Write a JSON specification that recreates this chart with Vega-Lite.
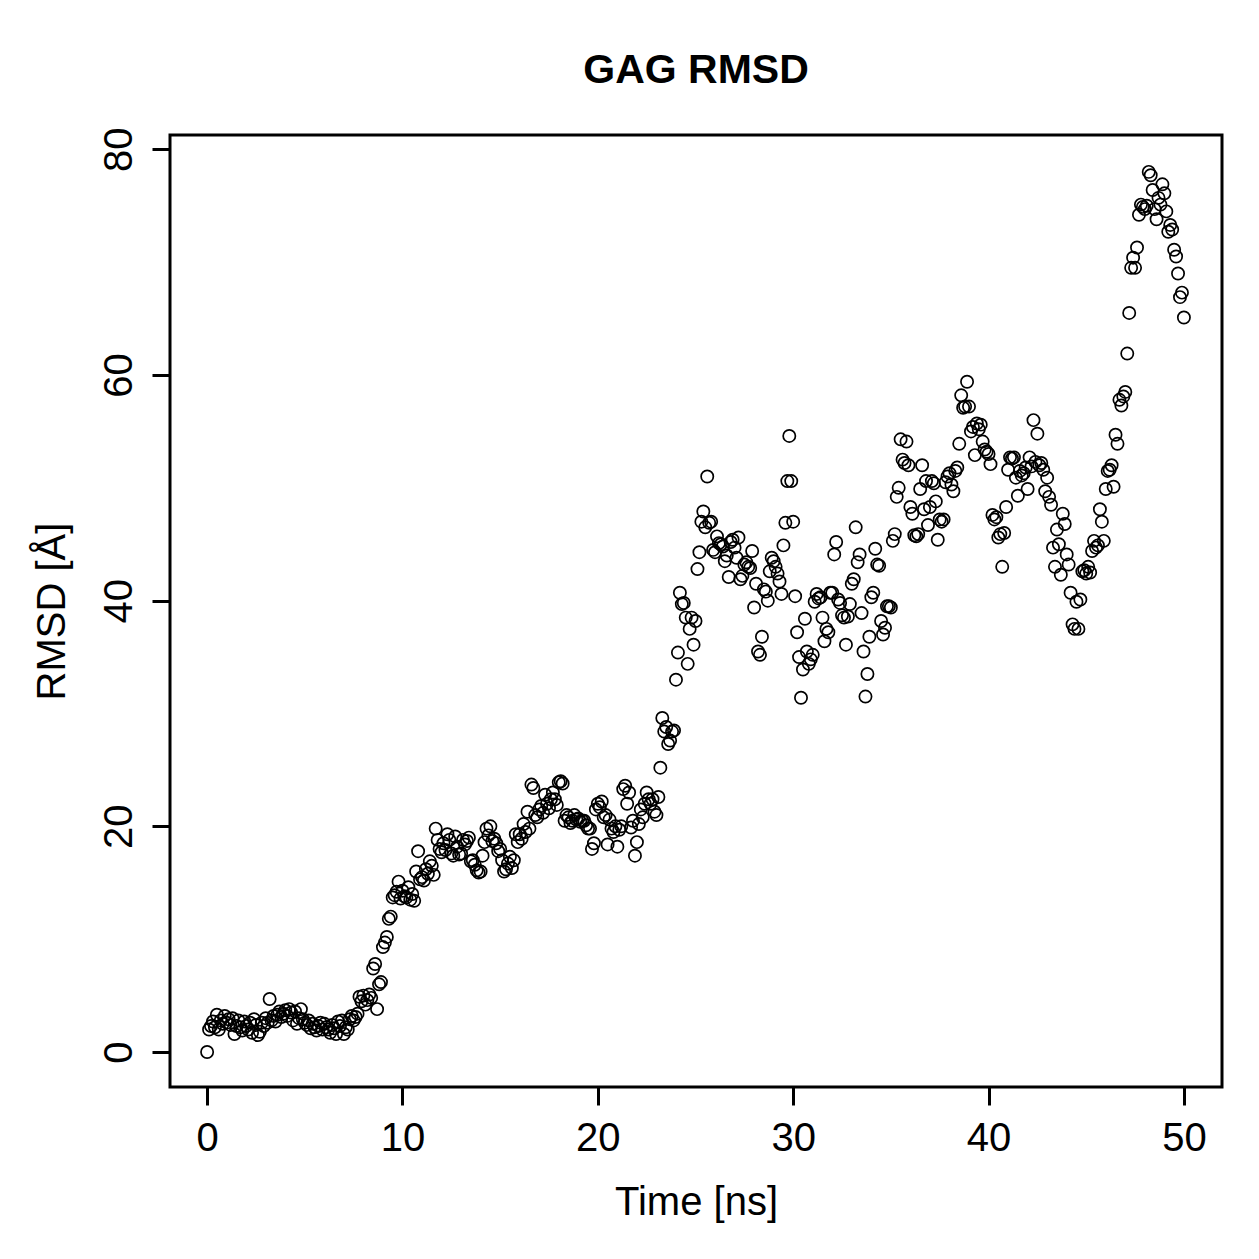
{
"$schema": "https://vega.github.io/schema/vega-lite/v6.json",
"autosize": "none",
"width": 1052,
"height": 952,
"padding": {"left": 170, "top": 135, "right": 37, "bottom": 172},
"background": "white",
"title": {"text": "GAG RMSD", "font": "Liberation Sans", "fontSize": 41, "fontWeight": "bold", "color": "black", "anchor": "middle", "offset": 35},
"config": {
"view": {"stroke": "black", "strokeWidth": 3},
"axis": {"grid": false, "domain": false, "ticks": true, "tickColor": "black", "tickWidth": 3, "tickSize": 18, "labelColor": "black", "labelFont": "Liberation Sans", "labelFontSize": 40, "titleColor": "black", "titleFont": "Liberation Sans", "titleFontSize": 40, "titleFontWeight": "normal", "labelOverlap": false, "labelFlush": false}
},
"data": {"values": [
{"t":0.0,"r":0.0},{"t":0.1,"r":2.0},{"t":0.2,"r":2.3},{"t":0.3,"r":2.7},{"t":0.4,"r":2.2},{"t":0.5,"r":3.3},{"t":0.6,"r":2.0},{"t":0.7,"r":2.8},{"t":0.8,"r":2.5},{"t":0.9,"r":3.2},
{"t":1.0,"r":2.6},{"t":1.1,"r":2.9},{"t":1.2,"r":2.4},{"t":1.3,"r":3.0},{"t":1.4,"r":1.6},{"t":1.5,"r":2.3},{"t":1.6,"r":2.8},{"t":1.7,"r":2.2},{"t":1.8,"r":1.9},{"t":1.9,"r":2.7},
{"t":2.0,"r":2.3},{"t":2.1,"r":2.0},{"t":2.2,"r":2.6},{"t":2.3,"r":1.7},{"t":2.4,"r":2.9},{"t":2.5,"r":2.4},{"t":2.6,"r":1.5},{"t":2.7,"r":1.8},{"t":2.8,"r":2.6},{"t":2.9,"r":2.3},
{"t":3.0,"r":3.0},{"t":3.1,"r":2.6},{"t":3.2,"r":4.7},{"t":3.3,"r":2.8},{"t":3.4,"r":3.2},{"t":3.5,"r":2.7},{"t":3.6,"r":3.3},{"t":3.7,"r":3.6},{"t":3.8,"r":3.1},{"t":3.9,"r":3.4},
{"t":4.0,"r":3.7},{"t":4.1,"r":3.2},{"t":4.2,"r":3.8},{"t":4.3,"r":3.5},{"t":4.4,"r":2.8},{"t":4.5,"r":3.6},{"t":4.6,"r":2.5},{"t":4.7,"r":3.0},{"t":4.8,"r":3.8},{"t":4.9,"r":2.9},
{"t":5.0,"r":2.6},{"t":5.1,"r":2.4},{"t":5.2,"r":2.8},{"t":5.3,"r":2.1},{"t":5.4,"r":2.5},{"t":5.5,"r":2.2},{"t":5.6,"r":1.9},{"t":5.7,"r":2.3},{"t":5.8,"r":2.6},{"t":5.9,"r":2.0},
{"t":6.0,"r":2.5},{"t":6.1,"r":2.2},{"t":6.2,"r":2.0},{"t":6.3,"r":1.7},{"t":6.4,"r":2.4},{"t":6.5,"r":2.1},{"t":6.6,"r":1.6},{"t":6.7,"r":2.7},{"t":6.8,"r":2.3},{"t":6.9,"r":2.8},
{"t":7.0,"r":1.6},{"t":7.1,"r":2.2},{"t":7.2,"r":2.0},{"t":7.3,"r":2.9},{"t":7.4,"r":3.2},{"t":7.5,"r":2.8},{"t":7.6,"r":3.1},{"t":7.7,"r":3.4},{"t":7.8,"r":4.9},{"t":7.9,"r":4.5},
{"t":8.0,"r":5.0},{"t":8.1,"r":4.2},{"t":8.2,"r":4.6},{"t":8.3,"r":5.1},{"t":8.4,"r":4.8},{"t":8.5,"r":7.4},{"t":8.6,"r":7.8},{"t":8.7,"r":3.8},{"t":8.8,"r":6.0},{"t":8.9,"r":6.2},
{"t":9.0,"r":9.3},{"t":9.1,"r":9.7},{"t":9.2,"r":10.2},{"t":9.3,"r":11.8},{"t":9.4,"r":12.0},{"t":9.5,"r":13.7},{"t":9.6,"r":13.9},{"t":9.7,"r":14.2},{"t":9.8,"r":15.1},{"t":9.9,"r":13.6},
{"t":10.0,"r":14.3},{"t":10.1,"r":13.8},{"t":10.2,"r":13.7},{"t":10.3,"r":14.6},{"t":10.4,"r":13.5},{"t":10.5,"r":14.0},{"t":10.6,"r":13.4},{"t":10.7,"r":16.0},{"t":10.8,"r":17.8},{"t":10.9,"r":15.3},
{"t":11.0,"r":15.5},{"t":11.1,"r":15.2},{"t":11.2,"r":16.2},{"t":11.3,"r":15.8},{"t":11.4,"r":16.9},{"t":11.5,"r":16.5},{"t":11.6,"r":15.7},{"t":11.7,"r":19.8},{"t":11.8,"r":18.8},{"t":11.9,"r":18.0},
{"t":12.0,"r":17.7},{"t":12.1,"r":18.5},{"t":12.2,"r":17.9},{"t":12.3,"r":19.3},{"t":12.4,"r":18.8},{"t":12.5,"r":17.6},{"t":12.6,"r":17.4},{"t":12.7,"r":19.1},{"t":12.8,"r":18.2},{"t":12.9,"r":17.5},
{"t":13.0,"r":17.6},{"t":13.1,"r":18.8},{"t":13.2,"r":18.4},{"t":13.3,"r":18.7},{"t":13.4,"r":19.0},{"t":13.5,"r":16.9},{"t":13.6,"r":17.0},{"t":13.7,"r":16.6},{"t":13.8,"r":16.1},{"t":13.9,"r":15.9},
{"t":14.0,"r":16.0},{"t":14.1,"r":17.4},{"t":14.2,"r":18.6},{"t":14.3,"r":19.8},{"t":14.4,"r":19.2},{"t":14.5,"r":20.0},{"t":14.6,"r":18.7},{"t":14.7,"r":18.9},{"t":14.8,"r":18.5},{"t":14.9,"r":17.8},
{"t":15.0,"r":18.0},{"t":15.1,"r":17.0},{"t":15.2,"r":16.0},{"t":15.3,"r":16.2},{"t":15.4,"r":16.7},{"t":15.5,"r":17.3},{"t":15.6,"r":16.3},{"t":15.7,"r":17.0},{"t":15.8,"r":19.3},{"t":15.9,"r":18.6},
{"t":16.0,"r":19.3},{"t":16.1,"r":18.9},{"t":16.2,"r":20.2},{"t":16.3,"r":19.5},{"t":16.4,"r":21.3},{"t":16.5,"r":19.8},{"t":16.6,"r":23.7},{"t":16.7,"r":23.4},{"t":16.8,"r":21.0},{"t":16.9,"r":20.8},
{"t":17.0,"r":21.5},{"t":17.1,"r":21.8},{"t":17.2,"r":21.2},{"t":17.3,"r":22.8},{"t":17.4,"r":22.0},{"t":17.5,"r":21.6},{"t":17.6,"r":22.4},{"t":17.7,"r":23.0},{"t":17.8,"r":22.4},{"t":17.9,"r":21.9},
{"t":18.0,"r":23.9},{"t":18.1,"r":24.0},{"t":18.2,"r":23.8},{"t":18.3,"r":20.5},{"t":18.4,"r":21.0},{"t":18.5,"r":20.8},{"t":18.6,"r":20.3},{"t":18.7,"r":20.5},{"t":18.8,"r":21.0},{"t":18.9,"r":20.6},
{"t":19.0,"r":20.7},{"t":19.1,"r":20.4},{"t":19.2,"r":20.5},{"t":19.3,"r":20.5},{"t":19.4,"r":20.1},{"t":19.5,"r":19.8},{"t":19.6,"r":19.8},{"t":19.7,"r":18.0},{"t":19.8,"r":18.5},{"t":19.9,"r":21.5},
{"t":20.0,"r":22.0},{"t":20.1,"r":21.7},{"t":20.2,"r":22.2},{"t":20.3,"r":20.8},{"t":20.4,"r":21.0},{"t":20.5,"r":18.4},{"t":20.6,"r":20.6},{"t":20.7,"r":19.8},{"t":20.8,"r":19.5},{"t":20.9,"r":20.0},
{"t":21.0,"r":18.2},{"t":21.1,"r":19.7},{"t":21.2,"r":20.0},{"t":21.3,"r":23.3},{"t":21.4,"r":23.6},{"t":21.5,"r":22.0},{"t":21.6,"r":23.0},{"t":21.7,"r":19.9},{"t":21.8,"r":20.5},{"t":21.9,"r":17.4},
{"t":22.0,"r":18.6},{"t":22.1,"r":20.2},{"t":22.2,"r":21.5},{"t":22.3,"r":20.8},{"t":22.4,"r":22.0},{"t":22.5,"r":23.0},{"t":22.6,"r":22.4},{"t":22.7,"r":22.0},{"t":22.8,"r":22.4},{"t":22.9,"r":21.3},
{"t":23.0,"r":21.0},{"t":23.1,"r":22.6},{"t":23.2,"r":25.2},{"t":23.3,"r":29.6},{"t":23.4,"r":28.4},{"t":23.5,"r":28.8},{"t":23.6,"r":27.3},{"t":23.7,"r":27.6},{"t":23.8,"r":28.4},{"t":23.9,"r":28.5},
{"t":24.0,"r":33.0},{"t":24.1,"r":35.4},{"t":24.2,"r":40.7},{"t":24.3,"r":39.7},{"t":24.4,"r":39.8},{"t":24.5,"r":38.5},{"t":24.6,"r":34.4},{"t":24.7,"r":37.5},{"t":24.8,"r":38.5},{"t":24.9,"r":36.1},
{"t":25.0,"r":38.2},{"t":25.1,"r":42.8},{"t":25.2,"r":44.3},{"t":25.3,"r":47.0},{"t":25.4,"r":47.9},{"t":25.5,"r":46.5},{"t":25.6,"r":51.0},{"t":25.7,"r":46.9},{"t":25.8,"r":47.0},{"t":25.9,"r":44.5},
{"t":26.0,"r":44.3},{"t":26.1,"r":45.7},{"t":26.2,"r":45.1},{"t":26.3,"r":45.0},{"t":26.4,"r":44.8},{"t":26.5,"r":43.5},{"t":26.6,"r":44.0},{"t":26.7,"r":42.1},{"t":26.8,"r":45.2},{"t":26.9,"r":45.4},
{"t":27.0,"r":44.7},{"t":27.1,"r":43.8},{"t":27.2,"r":45.6},{"t":27.3,"r":41.9},{"t":27.4,"r":42.2},{"t":27.5,"r":43.2},{"t":27.6,"r":43.4},{"t":27.7,"r":43.0},{"t":27.8,"r":42.9},{"t":27.9,"r":44.4},
{"t":28.0,"r":39.4},{"t":28.1,"r":41.5},{"t":28.2,"r":35.5},{"t":28.3,"r":35.2},{"t":28.4,"r":36.8},{"t":28.5,"r":41.0},{"t":28.6,"r":40.8},{"t":28.7,"r":40.0},{"t":28.8,"r":42.6},{"t":28.9,"r":43.8},
{"t":29.0,"r":43.5},{"t":29.1,"r":43.0},{"t":29.2,"r":42.4},{"t":29.3,"r":41.7},{"t":29.4,"r":40.6},{"t":29.5,"r":44.9},{"t":29.6,"r":46.9},{"t":29.7,"r":50.6},{"t":29.8,"r":54.6},{"t":29.9,"r":50.6},
{"t":30.0,"r":47.0},{"t":30.1,"r":40.4},{"t":30.2,"r":37.2},{"t":30.3,"r":35.0},{"t":30.4,"r":31.4},{"t":30.5,"r":33.9},{"t":30.6,"r":38.4},{"t":30.7,"r":35.5},{"t":30.8,"r":34.4},{"t":30.9,"r":34.8},
{"t":31.0,"r":35.2},{"t":31.1,"r":39.9},{"t":31.2,"r":40.6},{"t":31.3,"r":40.2},{"t":31.4,"r":40.3},{"t":31.5,"r":38.5},{"t":31.6,"r":36.4},{"t":31.7,"r":37.5},{"t":31.8,"r":37.2},{"t":31.9,"r":40.7},
{"t":32.0,"r":40.7},{"t":32.1,"r":44.1},{"t":32.2,"r":45.2},{"t":32.3,"r":40.1},{"t":32.4,"r":39.8},{"t":32.5,"r":38.7},{"t":32.6,"r":38.5},{"t":32.7,"r":36.1},{"t":32.8,"r":38.6},{"t":32.9,"r":39.7},
{"t":33.0,"r":41.5},{"t":33.1,"r":41.9},{"t":33.2,"r":46.5},{"t":33.3,"r":43.4},{"t":33.4,"r":44.1},{"t":33.5,"r":38.9},{"t":33.6,"r":35.5},{"t":33.7,"r":31.5},{"t":33.8,"r":33.5},{"t":33.9,"r":36.8},
{"t":34.0,"r":40.3},{"t":34.1,"r":40.7},{"t":34.2,"r":44.6},{"t":34.3,"r":43.2},{"t":34.4,"r":43.1},{"t":34.5,"r":38.2},{"t":34.6,"r":37.0},{"t":34.7,"r":37.6},{"t":34.8,"r":39.5},{"t":34.9,"r":39.5},
{"t":35.0,"r":39.4},{"t":35.1,"r":45.3},{"t":35.2,"r":45.9},{"t":35.3,"r":49.2},{"t":35.4,"r":50.0},{"t":35.5,"r":54.3},{"t":35.6,"r":52.5},{"t":35.7,"r":52.2},{"t":35.8,"r":54.1},{"t":35.9,"r":52.0},
{"t":36.0,"r":48.3},{"t":36.1,"r":47.7},{"t":36.2,"r":45.8},{"t":36.3,"r":45.7},{"t":36.4,"r":45.9},{"t":36.5,"r":49.9},{"t":36.6,"r":52.0},{"t":36.7,"r":48.1},{"t":36.8,"r":50.6},{"t":36.9,"r":46.7},
{"t":37.0,"r":48.3},{"t":37.1,"r":50.6},{"t":37.2,"r":50.4},{"t":37.3,"r":48.8},{"t":37.4,"r":45.4},{"t":37.5,"r":47.2},{"t":37.6,"r":47.0},{"t":37.7,"r":47.2},{"t":37.8,"r":50.5},{"t":37.9,"r":51.0},
{"t":38.0,"r":51.3},{"t":38.1,"r":50.3},{"t":38.2,"r":49.7},{"t":38.3,"r":51.5},{"t":38.4,"r":51.8},{"t":38.5,"r":53.9},{"t":38.6,"r":58.2},{"t":38.7,"r":57.1},{"t":38.8,"r":57.2},{"t":38.9,"r":59.4},
{"t":39.0,"r":57.2},{"t":39.1,"r":55.0},{"t":39.2,"r":55.4},{"t":39.3,"r":52.9},{"t":39.4,"r":55.7},{"t":39.5,"r":55.2},{"t":39.6,"r":55.6},{"t":39.7,"r":54.1},{"t":39.8,"r":53.4},{"t":39.9,"r":53.2},
{"t":40.0,"r":53.0},{"t":40.1,"r":52.1},{"t":40.2,"r":47.6},{"t":40.3,"r":47.2},{"t":40.4,"r":47.4},{"t":40.5,"r":45.6},{"t":40.6,"r":45.9},{"t":40.7,"r":43.0},{"t":40.8,"r":46.0},{"t":40.9,"r":48.3},
{"t":41.0,"r":51.6},{"t":41.1,"r":52.7},{"t":41.2,"r":52.6},{"t":41.3,"r":52.7},{"t":41.4,"r":50.9},{"t":41.5,"r":49.3},{"t":41.6,"r":51.5},{"t":41.7,"r":51.1},{"t":41.8,"r":51.3},{"t":41.9,"r":51.8},
{"t":42.0,"r":49.9},{"t":42.1,"r":52.7},{"t":42.2,"r":51.9},{"t":42.3,"r":56.0},{"t":42.4,"r":52.3},{"t":42.5,"r":54.8},{"t":42.6,"r":52.0},{"t":42.7,"r":52.2},{"t":42.8,"r":51.6},{"t":42.9,"r":49.7},
{"t":43.0,"r":50.9},{"t":43.1,"r":49.2},{"t":43.2,"r":48.5},{"t":43.3,"r":44.7},{"t":43.4,"r":43.0},{"t":43.5,"r":46.3},{"t":43.6,"r":45.0},{"t":43.7,"r":42.3},{"t":43.8,"r":47.7},{"t":43.9,"r":46.8},
{"t":44.0,"r":44.1},{"t":44.1,"r":43.2},{"t":44.2,"r":40.7},{"t":44.3,"r":37.9},{"t":44.4,"r":37.5},{"t":44.5,"r":39.9},{"t":44.6,"r":37.5},{"t":44.7,"r":40.1},{"t":44.8,"r":42.6},{"t":44.9,"r":42.7},
{"t":45.0,"r":42.4},{"t":45.1,"r":43.0},{"t":45.2,"r":42.5},{"t":45.3,"r":44.4},{"t":45.4,"r":45.3},{"t":45.5,"r":44.7},{"t":45.6,"r":44.9},{"t":45.7,"r":48.1},{"t":45.8,"r":47.0},{"t":45.9,"r":45.3},
{"t":46.0,"r":49.9},{"t":46.1,"r":51.5},{"t":46.2,"r":51.6},{"t":46.3,"r":52.0},{"t":46.4,"r":50.1},{"t":46.5,"r":54.7},{"t":46.6,"r":53.9},{"t":46.7,"r":57.8},{"t":46.8,"r":57.3},{"t":46.9,"r":58.1},
{"t":47.0,"r":58.5},{"t":47.1,"r":61.9},{"t":47.2,"r":65.5},{"t":47.3,"r":69.5},{"t":47.4,"r":70.4},{"t":47.5,"r":69.5},{"t":47.6,"r":71.3},{"t":47.7,"r":74.2},{"t":47.8,"r":75.1},{"t":47.9,"r":74.9},
{"t":48.0,"r":74.7},{"t":48.1,"r":75.0},{"t":48.2,"r":78.0},{"t":48.3,"r":77.7},{"t":48.4,"r":76.4},{"t":48.5,"r":74.7},{"t":48.6,"r":73.8},{"t":48.7,"r":75.7},{"t":48.8,"r":75.1},{"t":48.9,"r":76.9},
{"t":49.0,"r":76.1},{"t":49.1,"r":74.5},{"t":49.2,"r":72.7},{"t":49.3,"r":73.3},{"t":49.4,"r":72.9},{"t":49.5,"r":71.1},{"t":49.6,"r":70.5},{"t":49.7,"r":69.0},{"t":49.8,"r":66.9},{"t":49.9,"r":67.3},
{"t":50.0,"r":65.1}
]},
"mark": {"type": "point", "shape": "circle", "filled": false, "color": "black", "size": 150, "strokeWidth": 1.7, "opacity": 1},
"encoding": {
"x": {"field": "t", "type": "quantitative", "scale": {"domain": [-1.9, 51.95], "nice": false, "zero": false},
"axis": {"values": [0, 10, 20, 30, 40, 50], "title": "Time [ns]", "labelPadding": 13, "labelAngle": 0, "titleX": 526, "titleY": 115, "titleBaseline": "middle", "titleAlign": "center"}},
"y": {"field": "r", "type": "quantitative", "scale": {"domain": [-3.1, 81.27], "nice": false, "zero": false},
"axis": {"values": [0, 20, 40, 60, 80], "title": "RMSD [Å]", "labelAngle": -90, "labelAlign": "center", "labelBaseline": "middle", "labelPadding": 33, "titleX": -118, "titleY": 476, "titleBaseline": "middle", "titleAlign": "center", "titleAngle": -90}}
}
}
